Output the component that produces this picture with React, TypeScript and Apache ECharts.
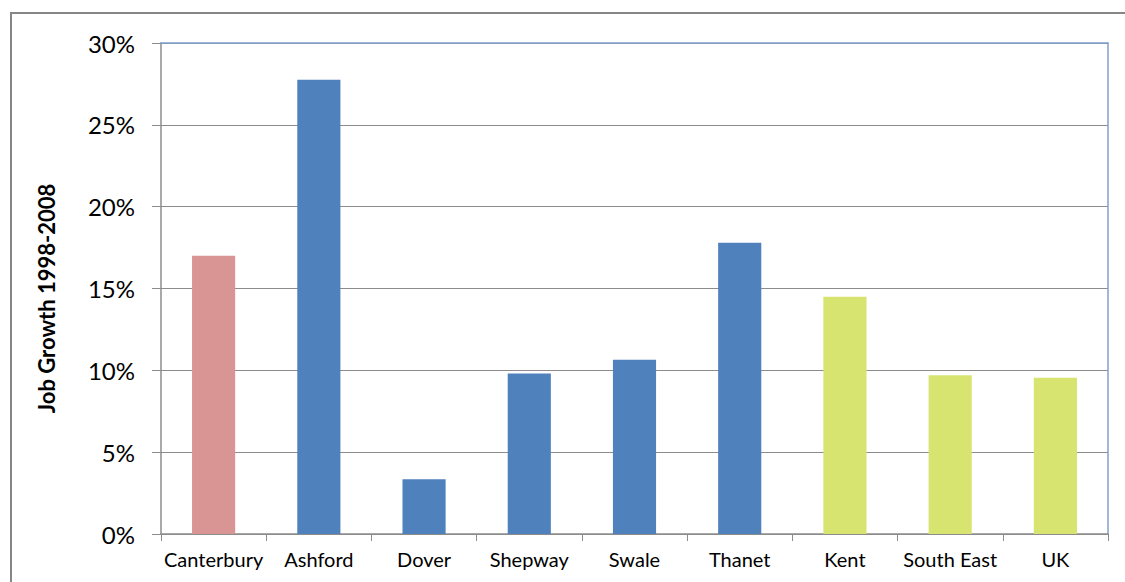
import React, { useEffect, useRef } from "react";
import * as echarts from "echarts";

const categories = ["Canterbury", "Ashford", "Dover", "Shepway", "Swale", "Thanet", "Kent", "South East", "UK"];
const jobGrowth = [17.0, 27.75, 3.35, 9.8, 10.65, 17.8, 14.5, 9.7, 9.55];
const groups = ["focus", "district", "district", "district", "district", "district", "region", "region", "region"];
const yTicks = [0, 5, 10, 15, 20, 25, 30];

const groupColors: Record<string, string> = {
  focus: "#D99594",
  district: "#4F81BD",
  region: "#D7E46F",
};

export default function App() {
  const ref = useRef<HTMLDivElement>(null);
  useEffect(() => {
    document.body.style.margin = "0";
    const chart = echarts.init(ref.current!, null, { renderer: "svg" });
    const font = "Lato, 'Open Sans', sans-serif";
    chart.setOption({
      animation: false,
      backgroundColor: "#ffffff",
      graphic: [
        {
          type: "rect",
          shape: { x: 11, y: 13, width: 1200, height: 700 },
          style: { fill: "none", stroke: "#868686", lineWidth: 2 },
          z: 100,
        },
      ],
      grid: { left: 161, top: 43, right: 17, bottom: 48, containLabel: false },
      xAxis: [
        {
          type: "category",
          data: categories,
          axisLine: { onZero: false, lineStyle: { color: "#8c8c8c", width: 1.5 } },
          axisTick: { show: true, length: 7, lineStyle: { color: "#8c8c8c" } },
          axisLabel: { interval: 0, color: "#000", fontFamily: font, fontSize: 20, margin: 15 },
        },
        {
          type: "category",
          data: categories,
          position: "top",
          axisLine: { onZero: false, lineStyle: { color: "#7fa1d0", width: 1.5 } },
          axisTick: { show: false },
          axisLabel: { show: false },
        },
      ],
      yAxis: [
        {
          type: "value",
          min: yTicks[0],
          max: yTicks[yTicks.length - 1],
          interval: 5,
          name: "Job Growth 1998-2008",
          nameLocation: "middle",
          nameGap: 104,
          nameTextStyle: { color: "#000", fontFamily: font, fontSize: 22, fontWeight: "bold", padding: [0, 20, 0, 0] },
          axisLine: { show: true, onZero: false, lineStyle: { color: "#8c8c8c", width: 1.5 } },
          axisTick: { show: true, length: 9, lineStyle: { color: "#8c8c8c" } },
          axisLabel: { color: "#000", fontFamily: font, fontSize: 24, margin: 26, formatter: "{value}%" },
          splitLine: { show: true, lineStyle: { color: "#8c8c8c", width: 1 } },
        },
        {
          type: "value",
          position: "right",
          min: 0,
          max: 30,
          interval: 5,
          axisLine: { show: true, onZero: false, lineStyle: { color: "#7fa1d0", width: 1.5 } },
          axisTick: { show: false },
          axisLabel: { show: false },
          splitLine: { show: false },
        },
      ],
      series: [
        {
          type: "bar",
          barWidth: "41%",
          data: jobGrowth.map((v, i) => ({ value: v, itemStyle: { color: groupColors[groups[i]] } })),
        },
      ],
    });
    return () => chart.dispose();
  }, []);
  return <div ref={ref} style={{ width: 1125, height: 582 }} />;
}
